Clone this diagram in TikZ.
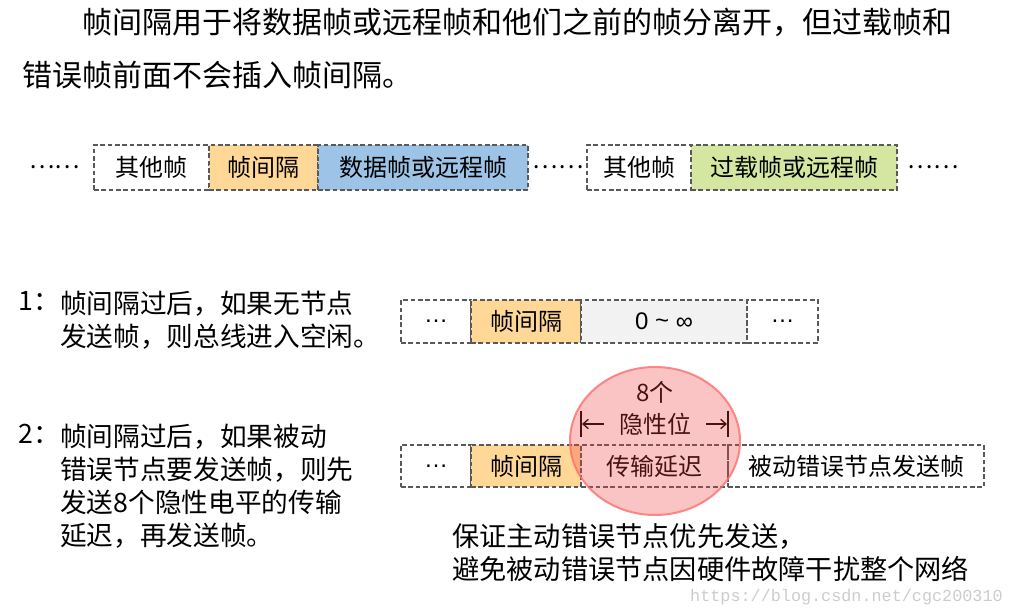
\documentclass[tikz,border=0pt]{standalone}
\usepackage{fontspec}
\setmainfont{Noto Sans CJK SC}
\newfontfamily\latinfont{Liberation Sans}
\newfontfamily\markfont{Liberation Mono}
\usetikzlibrary{arrows.meta, positioning}
\definecolor{edgec}{HTML}{595959}
\definecolor{gapc}{HTML}{FFD797}
\definecolor{datc}{HTML}{9DC3E6}
\definecolor{ovlc}{HTML}{D5E6A0}
\definecolor{idlc}{HTML}{F2F2F2}
\definecolor{spotc}{HTML}{F03C3C}
\definecolor{rimc}{HTML}{FF6E6E}

\begin{document}
\begin{tikzpicture}[
        x=0.75pt, y=-0.75pt,
        cell/.style={rectangle, draw=edgec, line width=1.1pt, dash pattern=on 3.5pt off 2pt, inner sep=0pt, outer sep=0pt, font=\fontsize{18}{20}\selectfont},
        row1/.style={cell, minimum height=33.75pt},
        row2/.style={cell, minimum height=32.25pt},
        row3/.style={cell, minimum height=31.5pt},
        gapdots/.style={inner sep=0pt, font=\fontsize{18}{20}\selectfont},
        title/.style={inner sep=0pt, align=left, font=\fontsize{22.5}{39.75}\selectfont},
        note/.style={inner sep=0pt, align=left, font=\fontsize{20}{24.75}\selectfont},
        dimarrow/.style={-{Straight Barb[length=4pt, width=7pt]}, line width=1pt},
        spot/.style={fill=spotc, fill opacity=0.3, draw=rimc, draw opacity=0.8, line width=1.5pt}
    ]
        \useasboundingbox (0,0) rectangle (1015,616);

        % title
        \node[title, anchor=west] (ttl) at (22,48.5) {\hspace*{2em}帧间隔用于将数据帧或远程帧和他们之前的帧分离开，但过载帧和\\错误帧前面不会插入帧间隔。};

        % row 1: where the interframe space goes
        \node[gapdots] (dotsa) at (55,167.5) {……};
        \node[row1, minimum width=86.25pt] (oth1) at (151.5,167.5) {其他帧};
        \node[row1, fill=gapc, minimum width=81.75pt, right=0pt of oth1] (ifs1) {帧间隔};
        \node[row1, fill=datc, minimum width=157.5pt, right=0pt of ifs1] (dat) {数据帧或远程帧};
        \node[gapdots] (dotsb) at (558,167.5) {……};
        \node[row1, minimum width=78pt] (oth2) at (639,167.5) {其他帧};
        \node[row1, fill=ovlc, minimum width=154.5pt, right=0pt of oth2] (ovl) {过载帧或远程帧};
        \node[gapdots] (dotsc) at (933,167.5) {……};

        % case 1
        \node[note, anchor=west] (txa) at (60,320.5) {帧间隔过后，如果无节点\\发送帧，则总线进入空闲。};
        \node[note, anchor=north east] (numa) at (txa.north west) {1：};
        \node[row2, minimum width=52.5pt] (pre2) at (436,321.5) {\latinfont …};
        \node[row2, fill=gapc, minimum width=82.5pt, right=0pt of pre2] (ifs2) {帧间隔};
        \node[row2, fill=idlc, minimum width=124.5pt, right=0pt of ifs2] (inf) {\latinfont 0 \raisebox{1pt}{\textasciitilde} ∞};
        \node[row2, minimum width=53.25pt, right=0pt of inf] (post2) {\latinfont …};

        % case 2
        \node[note, anchor=west] (txb) at (60,486.5) {帧间隔过后，如果被动\\错误节点要发送帧，则先\\发送8个隐性电平的传输\\延迟，再发送帧。};
        \node[note, anchor=north east] (numb) at (txb.north west) {2：};
        \node[row3, minimum width=52.5pt] (pre3) at (436,466) {\latinfont …};
        \node[row3, fill=gapc, minimum width=82.5pt, right=0pt of pre3] (ifs3) {帧间隔};
        \node[row3, minimum width=110.25pt, right=0pt of ifs3] (dly) {传输延迟};
        \node[row3, minimum width=192pt, right=0pt of dly] (pas) {被动错误节点发送帧};

        % 8 recessive bits
        \node[gapdots] (cnt) at (655,392) {8个};
        \node[gapdots, inner xsep=11.25pt] (hid) at (655,424) {隐性位};
        \coordinate (lb) at (582,424);
        \coordinate (rb) at (727,424);
        \draw[line width=1.1pt] (581,411) -- (581,437);
        \draw[line width=1.1pt] (728,411) -- (728,437);
        \draw[dimarrow] (hid.west) -- (lb);
        \draw[dimarrow] (hid.east) -- (rb);

        \node[note, anchor=west, font=\fontsize{20.4}{24.75}\selectfont] (why) at (452,552.5) {保证主动错误节点优先发送，\\避免被动错误节点因硬件故障干扰整个网络};

        \draw[spot] (655,441) ellipse [x radius=85, y radius=74];

        \node[inner sep=0pt, anchor=east, text=gray!40, font=\markfont\fontsize{12.6}{14}\selectfont] (wm) at (1003,597) {https://blog.csdn.net/cgc200310};
    \end{tikzpicture}
\end{document}
